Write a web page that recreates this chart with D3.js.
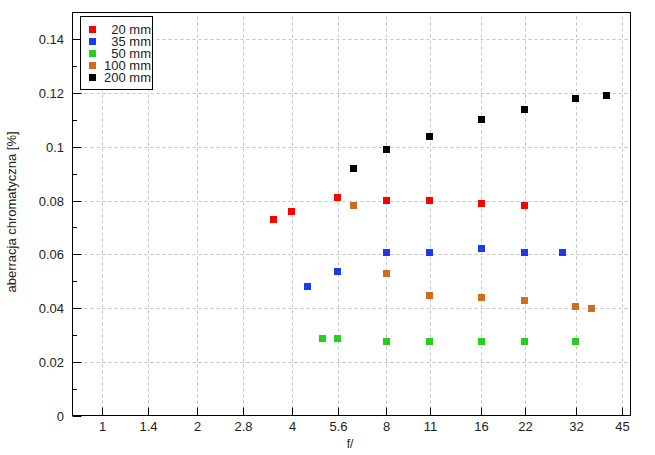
<!DOCTYPE html>
<html>
<head>
<meta charset="utf-8">
<script src="https://cdn.jsdelivr.net/npm/d3@7"></script>
<style>
  html, body { margin: 0; padding: 0; background: #fff; }
  svg { display: block; }
  text { font-family: "Liberation Sans", Arial, sans-serif; fill: #222; }
</style>
</head>
<body>
<svg id="chart" width="655" height="455"></svg>
<script>
// ---- data ----
const seriesNames = ["20 mm", "35 mm", "50 mm", "100 mm", "200 mm"];
const seriesColors = ["#ff0000", "#1a3be6", "#2acc1e", "#cc6e1e", "#000000"];

const f20 = [3.5, 4, 5.6, 8, 11, 16, 22];
const ab20 = [0.073, 0.076, 0.081, 0.080, 0.080, 0.079, 0.078];

const f35 = [4.5, 5.6, 8, 11, 16, 22, 29];
const ab35 = [0.048, 0.0535, 0.0607, 0.0607, 0.062, 0.0607, 0.0607];

const f50 = [5, 5.6, 8, 11, 16, 22, 32];
const ab50 = [0.0287, 0.0287, 0.0276, 0.0276, 0.0276, 0.0276, 0.0276];

const f100 = [6.3, 8, 11, 16, 22, 32, 36];
const ab100 = [0.078, 0.053, 0.0447, 0.044, 0.0428, 0.0406, 0.040];

const f200 = [6.3, 8, 11, 16, 22, 32, 40];
const ab200 = [0.092, 0.099, 0.104, 0.110, 0.114, 0.118, 0.119];

const xTicks = [1, 1.4, 2, 2.8, 4, 5.6, 8, 11, 16, 22, 32, 45];
const yTicks = [0, 0.02, 0.04, 0.06, 0.08, 0.1, 0.12, 0.14];
const yMinorTicks = [0.01, 0.03, 0.05, 0.07, 0.09, 0.11, 0.13];

const series = [
  { name: seriesNames[0], color: seriesColors[0], f: f20, v: ab20 },
  { name: seriesNames[1], color: seriesColors[1], f: f35, v: ab35 },
  { name: seriesNames[2], color: seriesColors[2], f: f50, v: ab50 },
  { name: seriesNames[3], color: seriesColors[3], f: f100, v: ab100 },
  { name: seriesNames[4], color: seriesColors[4], f: f200, v: ab200 }
];

// ---- layout ----
const pLeft = 72.5, pRight = 630.5, pTop = 12.5, pBottom = 415.5;
const svg = d3.select("#chart");

const x = d3.scaleLog().base(2).domain([0.804, 47.8]).range([pLeft, pRight]);
const y = d3.scaleLinear().domain([0, 0.15]).range([pBottom, pTop]);

const fmtY = v => v === 0 ? "0" : String(+v.toFixed(2));
const rx = v => Math.round(x(v)) + 0.5;
const ry = v => Math.round(y(v)) + 0.5;

// grid
const grid = svg.append("g").attr("stroke", "#c4c4c4").attr("stroke-width", 1)
  .attr("stroke-dasharray", "3,3").attr("fill", "none");
xTicks.forEach(t => {
  grid.append("line").attr("x1", rx(t)).attr("x2", rx(t)).attr("y1", pBottom).attr("y2", pTop);
});
yTicks.filter(t => t > 0).forEach(t => {
  grid.append("line").attr("x1", pLeft).attr("x2", pRight).attr("y1", ry(t)).attr("y2", ry(t));
});

// axes (ticks inward)
const xAxis = d3.axisBottom(x).tickValues(xTicks).tickSizeInner(-8).tickSizeOuter(0)
  .tickPadding(6).tickFormat(d => String(d));
const gx = svg.append("g").attr("transform", `translate(0,${pBottom})`).call(xAxis);
gx.select(".domain").remove();
gx.selectAll(".tick").attr("transform", d => `translate(${rx(d)},0)`);
gx.selectAll("line").attr("stroke", "#000");
gx.selectAll("text").attr("font-size", 13).attr("fill", "#222")
  .attr("font-family", "Liberation Sans, Arial, sans-serif");

const yAxis = d3.axisLeft(y).tickValues(yTicks).tickSizeInner(-9).tickSizeOuter(0)
  .tickPadding(8.5).tickFormat(fmtY);
const gy = svg.append("g").attr("transform", `translate(${pLeft},0)`).call(yAxis);
gy.select(".domain").remove();
gy.selectAll(".tick").attr("transform", d => `translate(0,${ry(d)})`);
gy.selectAll("line").attr("stroke", "#000");
gy.selectAll("text").attr("font-size", 13).attr("fill", "#222")
  .attr("font-family", "Liberation Sans, Arial, sans-serif");

const yMinor = d3.axisLeft(y).tickValues(yMinorTicks).tickSizeInner(-4.5).tickSizeOuter(0).tickFormat("");
const gym = svg.append("g").attr("transform", `translate(${pLeft},0)`).call(yMinor);
gym.select(".domain").remove();
gym.selectAll(".tick").attr("transform", d => `translate(0,${ry(d)})`);
gym.selectAll("line").attr("stroke", "#000");

// frame
svg.append("rect").attr("x", pLeft).attr("y", pTop)
  .attr("width", pRight - pLeft).attr("height", pBottom - pTop)
  .attr("fill", "none").attr("stroke", "#000").attr("stroke-width", 1);

// points
const size = 7;
series.forEach(s => {
  const pts = s.f.map((f, i) => ({ f, v: s.v[i] }));
  svg.append("g").selectAll("rect").data(pts).enter().append("rect")
    .attr("x", d => Math.round(x(d.f) - size / 2))
    .attr("y", d => Math.round(y(d.v) - size / 2))
    .attr("width", size).attr("height", size)
    .attr("fill", s.color);
});

// legend
const lg = svg.append("g");
lg.append("rect").attr("x", 80.5).attr("y", 16.5).attr("width", 72).attr("height", 73)
  .attr("fill", "#fff").attr("stroke", "#000").attr("stroke-width", 1);
series.forEach((s, i) => {
  const cy = 29.5 + i * 11.9;
  lg.append("rect").attr("x", 89).attr("y", Math.round(cy - 3.5)).attr("width", 7).attr("height", 7)
    .attr("fill", s.color);
  lg.append("text").attr("x", 151).attr("y", cy).attr("dy", "0.36em")
    .attr("text-anchor", "end").attr("font-size", 13).text(s.name);
});

// axis titles
svg.append("text").attr("x", 350).attr("y", 448).attr("text-anchor", "middle")
  .attr("font-size", 12).text("f/");
svg.append("text").attr("transform", "translate(16,212) rotate(-90)")
  .attr("text-anchor", "middle").attr("font-size", 13).text("aberracja chromatyczna [%]");
</script>
</body>
</html>
